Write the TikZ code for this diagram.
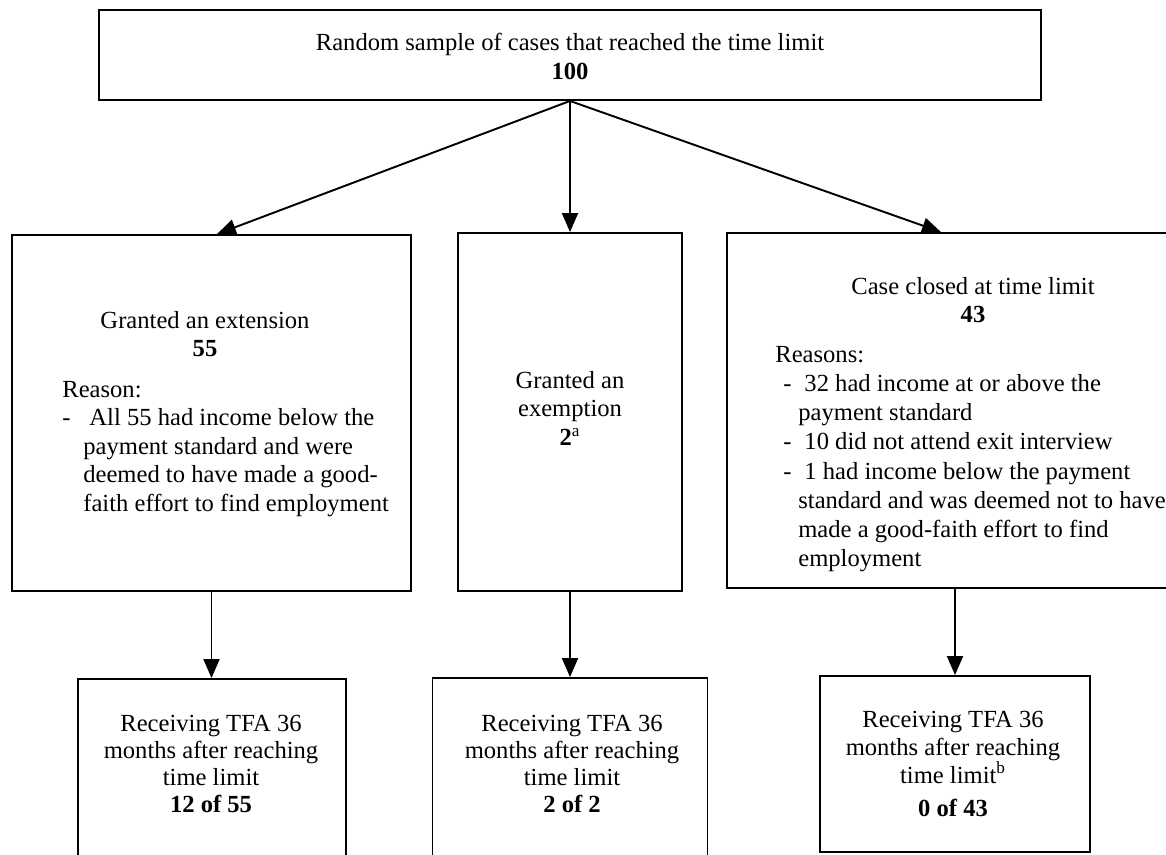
\documentclass[tikz,border=0pt]{standalone}
\usepackage{fontspec}
\setmainfont{Liberation Serif}
\usetikzlibrary{arrows.meta}
\tikzset{%
  box/.style={draw, rectangle, line width=1.1pt, inner sep=0pt},%
  txt/.style={inner sep=0pt, anchor=north, align=center, font=\fontsize{14pt}{16.2pt}\selectfont},%
  lst/.style={inner sep=0pt, anchor=north west, align=left, font=\fontsize{14pt}{16.2pt}\selectfont},%
  flow/.style={line width=1.1pt, -{Triangle[length=0.38cm, width=0.32cm]}}%
}
\begin{document}
\begin{tikzpicture}[x=0.02cm, y=-0.02cm]%
\useasboundingbox (0,0) rectangle (1166,855);%
\node[box, minimum width=18.84cm, minimum height=1.8cm] (sample) at (570,55) {};%
\node[box, minimum width=7.98cm, minimum height=7.12cm] (extension) at (211.5,413) {};%
\node[box, minimum width=4.48cm, minimum height=7.16cm] (exemption) at (570,412) {};%
\node[box, minimum width=9.12cm, minimum height=7.1cm] (closed) at (955,410.5) {};%
\node[box, minimum width=5.36cm, minimum height=3.62cm] (tfaext) at (212,769.5) {};%
\node[box, minimum width=5.5cm, minimum height=3.64cm] (tfaexm) at (570,769) {};%
\node[box, minimum width=5.4cm, minimum height=3.52cm] (tfaclo) at (955,764) {};%
\node[txt] (sampletext) at (570,33) {Random sample of cases that reached the time limit\\ \textbf{100}};%
\node[txt] (exttext) at (205,311) {Granted an extension\\ \textbf{55}};%
\node[lst] (extreason) at (62,381) {Reason:\\ \makebox[0.42cm][l]{-} All 55 had income below the\\ \hspace*{0.42cm}payment standard and were\\ \hspace*{0.42cm}deemed to have made a good-\\ \hspace*{0.42cm}faith effort to find employment};%
\node[txt] (exmtext) at (570,371) {Granted an\\ exemption\\ \textbf{2}\textsuperscript{a}};%
\node[txt] (clotext) at (973,277) {Case closed at time limit\\ \textbf{43}};%
\node[lst, font=\fontsize{14pt}{16.6pt}\selectfont] (cloreason) at (775,346) {Reasons:\\ \hspace*{0.16cm}\makebox[0.3cm][l]{-} 32 had income at or above the\\ \hspace*{0.46cm}payment standard\\ \hspace*{0.16cm}\makebox[0.3cm][l]{-} 10 did not attend exit interview\\ \hspace*{0.16cm}\makebox[0.3cm][l]{-} 1 had income below the payment\\ \hspace*{0.46cm}standard and was deemed not to have\\ \hspace*{0.46cm}made a good-faith effort to find\\ \hspace*{0.46cm}employment};%
\node[txt, font=\fontsize{14pt}{15.4pt}\selectfont] (tfaexttext) at (211,715) {Receiving TFA 36\\ months after reaching\\ time limit\\ \textbf{12 of 55}};%
\node[txt, font=\fontsize{14pt}{15.4pt}\selectfont] (tfaexmtext) at (572,715) {Receiving TFA 36\\ months after reaching\\ time limit\\ \textbf{2 of 2}};%
\node[txt, font=\fontsize{14pt}{15.8pt}\selectfont] (tfaclotext) at (953,711) {Receiving TFA 36\\ months after reaching\\ time limit\textsuperscript{b}\\[3pt] \textbf{0 of 43}};%
\draw[flow] (sample.south) -- ([xshift=0.11cm]extension.north);%
\draw[flow] (sample.south) -- (exemption.north);%
\draw[flow] (sample.south) -- ([xshift=-0.28cm]closed.north);%
\draw[flow] (extension.south) -- (extension.south |- tfaext.north);%
\draw[flow] (exemption.south) -- (tfaexm.north);%
\draw[flow] (closed.south) -- (tfaclo.north);%
\end{tikzpicture}
\end{document}
